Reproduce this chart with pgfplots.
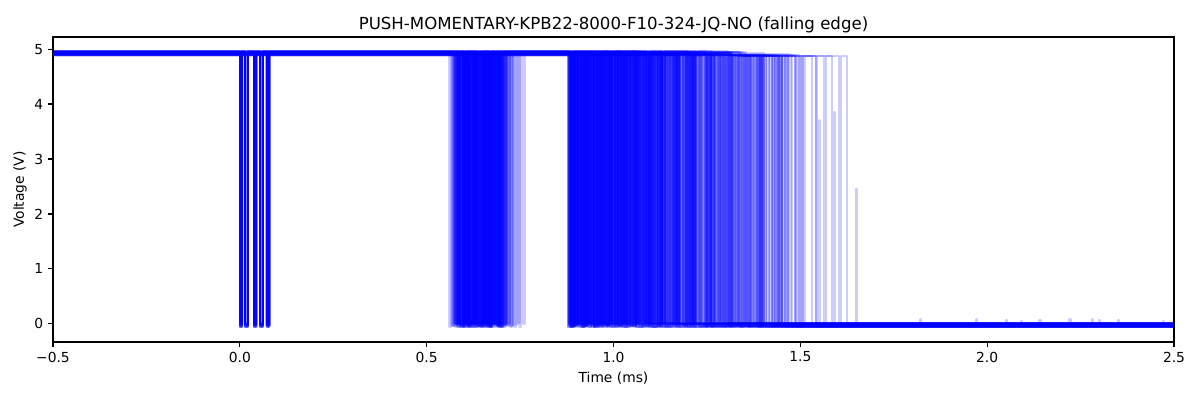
\documentclass[border=0pt]{standalone}
\usepackage{fontspec}
\setmainfont{DejaVu Sans}
\usepackage{pgfplots}
\pgfplotsset{compat=1.18}
\begin{document}
\begin{tikzpicture}
\useasboundingbox (-0.53in,-0.58in) rectangle (11.47in,3.42in);
\begin{axis}[
  at={(0,0)}, anchor=south west, scale only axis,
  width=11.21in, height=3.05in,
  xmin=-0.5, xmax=2.5, ymin=-0.33, ymax=5.22,
  xtick={-0.5,0,0.5,1,1.5,2,2.5},
  xticklabels={−0.5,0.0,0.5,1.0,1.5,2.0,2.5},
  ytick={0,1,2,3,4,5}, yticklabels={0,1,2,3,4,5},
  tick align=outside, xtick pos=bottom, ytick pos=left,
  major tick length=3.5pt,
  tick style={black, line width=0.8pt},
  axis line style={black, line width=0.8pt},
  ticklabel style={font=\fontsize{10}{12}\selectfont},
  title={PUSH-MOMENTARY-KPB22-8000-F10-324-JQ-NO (falling edge)},
  title style={font=\fontsize{12}{14}\selectfont, at={(axis description cs:0.5,1.0114)}, anchor=center},
  xlabel={Time (ms)},
  xlabel style={font=\fontsize{10}{12}\selectfont, at={(axis description cs:0.5,-0.118)}, anchor=center},
  ylabel={Voltage (V)},
  ylabel style={font=\fontsize{10}{12}\selectfont, at={(axis description cs:-0.0295,0.5)}, anchor=center},
  tr/.style={color={rgb,255:red,0;green,0;blue,255}, opacity=0.2, line width=1.5pt, const plot, no marks, line join=round},
]
% trace 1
\addplot[tr] coordinates {(-0.5,4.95)(0.001,-0.03)(0.007,4.95)(0.015,-0.03)(0.022,4.95)(0.038,-0.03)(0.044,4.95)(0.055,-0.03)(0.061,4.95)(0.072,-0.03)(0.079,4.95)
(0.592,-0.03)(0.598,4.95)(0.631,-0.03)(0.640,4.95)(0.668,-0.03)(0.672,4.95)(0.695,-0.03)(0.703,4.95)
(0.884,-0.03)(0.893,4.95)(0.921,-0.03)(0.934,4.95)(0.962,-0.03)(0.970,4.95)(1.004,-0.03)(1.011,4.95)(1.047,-0.03)(1.060,4.95)(1.093,-0.03)(1.099,4.95)(1.138,-0.03)(1.146,4.95)(1.187,-0.03)(1.192,4.95)(1.236,-0.03)(2.5,-0.03)};
% trace 2
\addplot[tr] coordinates {(-0.5,4.92)(0.002,0)(0.008,4.92)(0.016,0)(0.023,4.92)(0.039,0)(0.045,4.92)(0.056,0)(0.062,4.92)(0.073,0)(0.080,4.92)
(0.578,0)(0.584,4.92)(0.605,0)(0.622,4.92)(0.648,0)(0.655,4.92)(0.684,0)(0.689,4.92)
(0.891,0)(0.905,4.92)(0.937,0)(0.942,4.92)(0.975,0)(0.991,4.92)(1.021,0)(1.028,4.92)(1.066,0)(1.071,4.92)(1.112,0)(1.125,4.92)(1.163,0)(1.170,4.92)(1.208,0)(1.214,4.92)(1.251,0)(1.256,4.92)(1.298,0)(2.5,0)};
% trace 3
\addplot[tr] coordinates {(-0.5,4.94)(0.000,-0.05)(0.006,4.94)(0.014,-0.05)(0.021,4.94)(0.037,-0.05)(0.043,4.94)(0.054,-0.05)(0.060,4.94)(0.071,-0.05)(0.078,4.94)
(0.560,-0.05)(0.566,4.94)(0.598,-0.05)(0.607,4.94)(0.627,-0.05)(0.633,4.94)(0.659,-0.05)(0.676,4.94)(0.701,-0.05)(0.706,4.94)
(0.879,-0.05)(0.887,4.94)(0.912,-0.05)(0.918,4.94)(0.948,-0.05)(0.960,4.94)(0.995,-0.05)(1.000,4.94)(1.031,-0.05)(1.040,4.94)(1.078,-0.05)(1.083,4.94)(1.105,-0.05)(2.5,-0.05)};
% trace 4
\addplot[tr] coordinates {(-0.5,4.90)(0.001,-0.02)(0.007,4.90)(0.015,-0.02)(0.022,4.90)(0.038,-0.02)(0.044,4.90)(0.055,-0.02)(0.061,4.90)(0.072,-0.02)(0.079,4.90)
(0.587,-0.02)(0.601,4.90)(0.619,-0.02)(0.625,4.90)(0.652,-0.02)(0.661,4.90)(0.690,-0.02)(0.712,4.90)(0.738,-0.02)(0.742,4.90)
(0.903,-0.02)(0.910,4.90)(0.944,-0.02)(0.955,4.90)(0.986,-0.02)(0.992,4.90)(1.029,-0.02)(1.035,4.90)(1.071,-0.02)(1.085,4.90)(1.118,-0.02)(1.123,4.90)(1.166,-0.02)(1.174,4.90)(1.219,-0.02)(1.224,4.90)(1.271,-0.02)(1.280,4.90)(1.327,-0.02)(1.332,4.90)(1.384,-0.02)(1.390,4.90)(1.432,-0.02)(1.970,0.08)(1.973,-0.02)(2.5,-0.02)};
% trace 5
\addplot[tr] coordinates {(-0.5,4.96)(0.001,0.01)(0.007,4.96)(0.015,0.01)(0.022,4.96)(0.038,0.01)(0.044,4.96)(0.055,0.01)(0.061,4.96)(0.072,0.01)(0.079,4.96)
(0.603,0.01)(0.609,4.96)(0.636,0.01)(0.646,4.96)(0.663,0.01)(0.667,4.96)(0.679,0.01)(0.694,4.96)
(0.886,0.01)(0.898,4.96)(0.928,0.01)(0.933,4.96)(0.958,0.01)(0.966,4.96)(0.999,0.01)(1.006,4.96)(1.041,0.01)(1.046,4.96)(1.086,0.01)(1.104,4.96)(1.131,0.01)(1.137,4.96)(1.179,0.01)(1.183,4.96)(1.221,0.01)(1.229,4.96)(1.264,0.01)(2.5,0.01)};
% trace 6
\addplot[tr] coordinates {(-0.5,4.93)(0.000,-0.04)(0.006,4.93)(0.015,-0.04)(0.022,4.93)(0.038,-0.04)(0.044,4.93)(0.054,-0.04)(0.061,4.93)(0.072,-0.04)(0.080,4.93)
(0.571,-0.04)(0.580,4.93)(0.611,-0.04)(0.615,4.93)(0.642,-0.04)(0.660,4.93)(0.687,-0.04)(0.693,4.93)(0.721,-0.04)(0.727,4.93)
(0.882,-0.04)(0.889,4.93)(0.915,-0.04)(0.927,4.93)(0.953,-0.04)(0.957,4.93)(0.981,-0.04)(0.989,4.93)(1.015,-0.04)(1.020,4.93)(1.052,-0.04)(1.063,4.93)(1.097,-0.04)(1.101,4.93)(1.142,-0.04)(1.151,4.93)(1.195,-0.04)(1.199,4.93)(1.248,-0.04)(1.253,4.93)(1.301,-0.04)(1.307,4.93)(1.355,-0.04)(1.361,4.93)(1.402,-0.04)(2.090,0.06)(2.093,-0.04)(2.5,-0.04)};
% trace 7
\addplot[tr] coordinates {(-0.5,4.91)(0.001,-0.01)(0.007,4.91)(0.016,-0.01)(0.022,4.91)(0.039,-0.01)(0.044,4.91)(0.055,-0.01)(0.062,4.91)(0.072,-0.01)(0.079,4.91)
(0.584,-0.01)(0.590,4.91)(0.615,-0.01)(0.629,4.91)(0.656,-0.01)(0.662,4.91)(0.676,-0.01)(0.681,4.91)(0.709,-0.01)(0.716,4.91)
(0.895,-0.01)(0.902,4.91)(0.930,-0.01)(0.936,4.91)(0.969,-0.01)(0.982,4.91)(1.008,-0.01)(1.014,4.91)(1.055,-0.01)(1.061,4.91)(1.101,-0.01)(1.109,4.91)(1.144,-0.01)(2.5,-0.01)};
% trace 8
\addplot[tr] coordinates {(-0.5,4.95)(0.001,-0.06)(0.007,4.95)(0.015,-0.06)(0.023,4.95)(0.038,-0.06)(0.045,4.95)(0.055,-0.06)(0.061,4.95)(0.073,-0.06)(0.079,4.95)
(0.596,-0.06)(0.603,4.95)(0.622,-0.06)(0.637,4.95)(0.664,-0.06)(0.669,4.95)(0.693,-0.06)(0.699,4.95)(0.748,-0.06)(0.753,4.95)
(0.887,-0.06)(0.894,4.95)(0.919,-0.06)(0.925,4.95)(0.951,-0.06)(0.963,4.95)(0.990,-0.06)(0.996,4.95)(1.026,-0.06)(1.033,4.95)(1.064,-0.06)(1.068,4.95)(1.105,-0.06)(1.118,4.95)(1.152,-0.06)(1.158,4.95)(1.199,-0.06)(1.204,4.95)(1.244,-0.06)(1.250,4.95)(1.290,-0.06)(1.296,4.95)(1.338,-0.06)(1.343,4.88)(1.386,-0.06)(1.392,4.88)(1.437,-0.06)(1.441,4.88)(1.489,-0.06)(2.5,-0.06)};
% trace 9
\addplot[tr] coordinates {(-0.5,4.92)(0.001,0.02)(0.006,4.92)(0.015,0.02)(0.022,4.92)(0.038,0.02)(0.044,4.92)(0.055,0.02)(0.061,4.92)(0.072,0.02)(0.079,4.92)
(0.580,0.02)(0.595,4.92)(0.626,0.02)(0.631,4.92)(0.650,0.02)(0.657,4.92)(0.672,0.02)(0.686,4.92)
(0.900,0.02)(0.906,4.92)(0.933,0.02)(0.947,4.92)(0.973,0.02)(0.978,4.92)(1.011,0.02)(1.018,4.92)(1.050,0.02)(1.056,4.92)(1.083,0.02)(2.220,0.09)(2.223,0.02)(2.5,0.02)};
% trace 10
\addplot[tr] coordinates {(-0.5,4.94)(0.001,-0.03)(0.007,4.94)(0.015,-0.03)(0.022,4.94)(0.038,-0.03)(0.044,4.94)(0.056,-0.03)(0.061,4.94)(0.072,-0.03)(0.079,4.94)
(0.565,-0.03)(0.571,4.94)(0.607,-0.03)(0.612,4.94)(0.638,-0.03)(0.645,4.94)(0.661,-0.03)(0.666,4.94)(0.697,-0.03)(0.705,4.94)
(0.878,-0.03)(0.886,4.94)(0.909,-0.03)(0.915,4.94)(0.940,-0.03)(0.951,4.94)(0.977,-0.03)(0.983,4.94)(1.016,-0.03)(1.024,4.94)(1.058,-0.03)(1.063,4.94)(1.091,-0.03)(1.096,4.94)(1.129,-0.03)(1.140,4.94)(1.172,-0.03)(1.177,4.94)(1.213,-0.03)(1.219,4.94)(1.259,-0.03)(1.264,4.94)(1.306,-0.03)(1.311,4.94)(1.354,-0.03)(2.5,-0.03)};
% trace 11
\addplot[tr] coordinates {(-0.5,4.90)(0.002,-0.02)(0.007,4.90)(0.015,-0.02)(0.022,4.90)(0.038,-0.02)(0.044,4.90)(0.055,-0.02)(0.062,4.90)(0.072,-0.02)(0.080,4.90)
(0.589,-0.02)(0.594,4.90)(0.613,-0.02)(0.618,4.90)(0.646,-0.02)(0.652,4.90)(0.681,-0.02)(0.698,4.90)(0.730,-0.02)(0.734,4.90)
(0.893,-0.02)(0.899,4.90)(0.926,-0.02)(0.931,4.90)(0.960,-0.02)(0.974,4.90)(1.003,-0.02)(1.009,4.90)(1.043,-0.02)(1.049,4.90)(1.089,-0.02)(1.094,4.90)(1.127,-0.02)(1.133,4.90)(1.175,-0.02)(1.186,4.90)(1.226,-0.02)(1.231,4.90)(1.279,-0.02)(1.285,4.90)(1.334,-0.02)(1.339,4.88)(1.391,-0.02)(1.396,4.88)(1.445,-0.02)(1.450,4.88)(1.497,-0.02)(1.502,4.88)(1.531,-0.02)(2.050,0.07)(2.053,-0.02)(2.5,-0.02)};
% trace 12
\addplot[tr] coordinates {(-0.5,4.96)(0.001,-0.04)(0.007,4.96)(0.015,-0.04)(0.022,4.96)(0.037,-0.04)(0.044,4.96)(0.055,-0.04)(0.061,4.96)(0.072,-0.04)(0.079,4.96)
(0.599,-0.04)(0.605,4.96)(0.633,-0.04)(0.648,4.96)(0.670,-0.04)(0.675,4.96)(0.702,-0.04)(0.708,4.96)
(0.889,-0.04)(0.897,4.96)(0.923,-0.04)(0.929,4.96)(0.955,-0.04)(0.961,4.96)(0.988,-0.04)(1.001,4.96)(1.036,-0.04)(1.042,4.96)(1.074,-0.04)(1.079,4.96)(1.115,-0.04)(1.121,4.96)(1.158,-0.04)(1.165,4.96)(1.204,-0.04)(1.209,4.96)(1.247,-0.04)(2.5,-0.04)};
% trace 13
\addplot[tr] coordinates {(-0.5,4.93)(0.001,-0.01)(0.007,4.93)(0.015,-0.01)(0.022,4.93)(0.038,-0.01)(0.044,4.93)(0.055,-0.01)(0.061,4.93)(0.072,-0.01)(0.079,4.93)
(0.575,-0.01)(0.583,4.93)(0.609,-0.01)(0.620,4.93)(0.643,-0.01)(0.649,4.93)(0.666,-0.01)(0.671,4.93)(0.691,-0.01)(0.697,4.93)
(0.906,-0.01)(0.913,4.93)(0.939,-0.01)(0.944,4.93)(0.965,-0.01)(0.971,4.93)(0.997,-0.01)(1.010,4.93)(1.038,-0.01)(1.044,4.93)(1.081,-0.01)(1.087,4.93)(1.121,-0.01)(1.128,4.93)(1.161,-0.01)(1.167,4.93)(1.209,-0.01)(1.215,4.93)(1.262,-0.01)(1.268,4.93)(1.318,-0.01)(1.323,4.89)(1.375,-0.01)(1.381,4.89)(1.417,-0.01)(2.5,-0.01)};
% trace 14
\addplot[tr] coordinates {(-0.5,4.91)(0.000,0)(0.006,4.91)(0.015,0)(0.021,4.91)(0.038,0)(0.043,4.91)(0.054,0)(0.061,4.91)(0.071,0)(0.079,4.91)
(0.594,0)(0.599,4.91)(0.624,0)(0.630,4.91)(0.654,0)(0.671,4.91)(0.686,0)(0.691,4.91)(0.758,0)(0.763,4.91)
(0.881,0)(0.891,4.91)(0.917,0)(0.923,4.91)(0.946,0)(0.953,4.91)(0.979,0)(0.985,4.91)(1.012,0)(1.025,4.91)(1.054,0)(1.059,4.91)(1.095,0)(1.101,4.91)(1.167,0)(2.280,0.08)(2.283,0)(2.5,0)};
% trace 15
\addplot[tr] coordinates {(-0.5,4.95)(0.001,-0.05)(0.007,4.95)(0.015,-0.05)(0.022,4.95)(0.038,-0.05)(0.044,4.95)(0.055,-0.05)(0.061,4.95)(0.072,-0.05)(0.079,4.95)
(0.582,-0.05)(0.588,4.95)(0.601,-0.05)(0.611,4.95)(0.629,-0.05)(0.635,4.95)(0.657,-0.05)(0.663,4.95)(0.683,-0.05)(0.690,4.95)
(0.897,-0.05)(0.903,4.95)(0.931,-0.05)(0.940,4.95)(0.967,-0.05)(0.972,4.95)(1.002,-0.05)(1.008,4.95)(1.035,-0.05)(1.039,4.95)(1.068,-0.05)(1.077,4.95)(1.108,-0.05)(1.113,4.95)(1.146,-0.05)(1.152,4.95)(1.190,-0.05)(1.196,4.95)(1.232,-0.05)(1.239,4.95)(1.283,-0.05)(1.288,4.95)(1.336,-0.05)(1.341,4.88)(1.391,-0.05)(1.396,4.88)(1.448,-0.05)(1.452,4.88)(1.503,-0.05)(1.508,4.88)(1.541,-0.05)(1.549,3.70)(1.552,-0.05)(2.350,0.07)(2.353,-0.05)(2.5,-0.05)};
% trace 16
\addplot[tr] coordinates {(-0.5,4.92)(0.001,-0.02)(0.007,4.92)(0.015,-0.02)(0.022,4.92)(0.038,-0.02)(0.044,4.92)(0.055,-0.02)(0.061,4.92)(0.073,-0.02)(0.079,4.92)
(0.568,-0.02)(0.574,4.92)(0.604,-0.02)(0.610,4.92)(0.635,-0.02)(0.641,4.92)(0.662,-0.02)(0.678,4.92)(0.712,-0.02)(0.718,4.92)
(0.885,-0.02)(0.890,4.92)(0.913,-0.02)(0.920,4.92)(0.943,-0.02)(0.949,4.92)(0.971,-0.02)(0.985,4.92)(1.019,-0.02)(1.026,4.92)(1.057,-0.02)(1.065,4.92)(1.098,-0.02)(1.106,4.92)(1.143,-0.02)(1.149,4.92)(1.185,-0.02)(1.190,4.92)(1.222,-0.02)(2.5,-0.02)};
% trace 17
\addplot[tr] coordinates {(-0.5,4.94)(0.001,0.01)(0.007,4.94)(0.015,0.01)(0.022,4.94)(0.038,0.01)(0.044,4.94)(0.055,0.01)(0.061,4.94)(0.072,0.01)(0.079,4.94)
(0.586,0.01)(0.592,4.94)(0.616,0.01)(0.623,4.94)(0.639,0.01)(0.646,4.94)(0.673,0.01)(0.679,4.94)(0.699,0.01)(0.709,4.94)
(0.892,0.01)(0.900,4.94)(0.924,0.01)(0.932,4.94)(0.957,0.01)(0.963,4.94)(0.992,0.01)(0.998,4.94)(1.024,0.01)(1.037,4.94)(1.067,0.01)(1.072,4.94)(1.110,0.01)(1.116,4.94)(1.154,0.01)(1.160,4.94)(1.197,0.01)(1.203,4.94)(1.241,0.01)(1.246,4.94)(1.286,0.01)(1.292,4.94)(1.318,0.01)(1.820,0.08)(1.823,0.01)(2.5,0.01)};
% trace 18
\addplot[tr] coordinates {(-0.5,4.90)(0.001,-0.03)(0.007,4.90)(0.016,-0.03)(0.022,4.90)(0.038,-0.03)(0.045,4.90)(0.055,-0.03)(0.062,4.90)(0.072,-0.03)(0.080,4.90)
(0.597,-0.03)(0.602,4.90)(0.628,-0.03)(0.634,4.90)(0.651,-0.03)(0.664,4.90)(0.688,-0.03)(0.694,4.90)(0.726,-0.03)(0.731,4.90)
(0.904,-0.03)(0.911,4.90)(0.935,-0.03)(0.941,4.90)(0.968,-0.03)(0.975,4.90)(1.006,-0.03)(1.013,4.90)(1.045,-0.03)(1.053,4.90)(1.084,-0.03)(1.091,4.90)(1.124,-0.03)(1.130,4.90)(1.168,-0.03)(1.173,4.90)(1.214,-0.03)(1.220,4.90)(1.266,-0.03)(1.272,4.90)(1.324,-0.03)(1.330,4.88)(1.381,-0.03)(1.386,4.88)(1.437,-0.03)(1.442,4.88)(1.487,-0.03)(1.492,4.88)(1.541,-0.03)(1.545,4.88)(1.585,-0.03)(1.589,3.85)(1.592,-0.03)(2.140,0.07)(2.143,-0.03)(2.5,-0.03)};
% trace 19
\addplot[tr] coordinates {(-0.5,4.96)(0.001,-0.06)(0.007,4.96)(0.015,-0.06)(0.022,4.96)(0.038,-0.06)(0.044,4.96)(0.055,-0.06)(0.061,4.96)(0.072,-0.06)(0.079,4.96)
(0.577,-0.06)(0.582,4.96)(0.612,-0.06)(0.617,4.96)(0.645,-0.06)(0.653,4.96)(0.669,-0.06)(0.674,4.96)(0.705,-0.06)(0.711,4.96)
(0.883,-0.06)(0.892,4.96)(0.916,-0.06)(0.922,4.96)(0.949,-0.06)(0.956,4.96)(0.984,-0.06)(0.990,4.96)(1.022,-0.06)(1.030,4.96)(1.061,-0.06)(2.470,0.06)(2.473,-0.06)(2.5,-0.06)};
% trace 20
\addplot[tr] coordinates {(-0.5,4.93)(0.001,0)(0.007,4.93)(0.015,0)(0.022,4.93)(0.038,0)(0.044,4.93)(0.055,0)(0.061,4.93)(0.072,0)(0.079,4.93)
(0.590,0)(0.596,4.93)(0.620,0)(0.626,4.93)(0.647,0)(0.656,4.93)(0.677,0)(0.683,4.93)(0.716,0)(0.722,4.93)
(0.898,0)(0.904,4.93)(0.929,0)(0.938,4.93)(0.963,0)(0.968,4.93)(0.996,0)(1.003,4.93)(1.033,0)(1.041,4.93)(1.076,0)(1.082,4.93)(1.117,0)(1.122,4.93)(1.160,0)(1.164,4.93)(1.206,0)(1.212,4.93)(1.253,0)(1.259,4.93)(1.303,0)(1.309,4.93)(1.349,0)(1.354,4.88)(1.398,0)(1.403,4.88)(1.452,0)(1.457,4.88)(1.508,0)(1.513,4.88)(1.563,0)(1.568,4.88)(1.604,0)(1.609,4.88)(1.624,0)(1.648,2.45)(1.651,0)(2.300,0.07)(2.303,0)(2.5,0)};
% traces 21-45
\addplot[tr] coordinates {(-0.5,4.93)(0.603,-0.02)(0.610,4.93)(0.637,-0.02)(0.642,4.93)(0.661,-0.02)(0.668,4.93)(0.688,-0.02)(0.694,4.93)
(0.890,-0.02)(0.896,4.93)(0.918,-0.02)(0.924,4.93)(0.946,-0.02)(0.958,4.93)(0.978,-0.02)(0.984,4.93)(1.009,-0.02)(1.015,4.93)(1.039,-0.02)(1.046,4.93)(1.072,-0.02)(1.078,4.93)(1.106,-0.02)(1.111,4.93)(1.139,-0.02)(1.146,4.93)(1.178,-0.02)(2.5,-0.02)};
\addplot[tr] coordinates {(-0.5,4.95)(0.582,0)(0.587,4.95)(0.617,0)(0.624,4.95)(0.644,0)(0.650,4.95)(0.674,0)(0.680,4.95)(0.696,0)(0.702,4.95)
(0.880,0)(0.884,4.95)(0.903,0)(0.909,4.95)(0.927,0)(0.935,4.95)(0.952,0)(0.957,4.95)(0.979,0)(0.988,4.95)(1.013,0)(1.018,4.95)(1.045,0)(1.052,4.95)(1.080,0)(1.086,4.95)(1.116,0)(1.121,4.95)(1.157,0)(1.162,4.95)(1.196,0)(1.201,4.95)(1.233,0)(2.5,0)};
\addplot[tr] coordinates {(-0.5,4.91)(0.593,-0.04)(0.600,4.91)(0.608,-0.04)(0.614,4.91)(0.640,-0.04)(0.645,4.91)(0.665,-0.04)(0.670,4.91)(0.682,-0.04)(0.688,4.91)
(0.895,-0.04)(0.901,4.91)(0.925,-0.04)(0.930,4.91)(0.956,-0.04)(0.964,4.91)(0.987,-0.04)(0.994,4.91)(1.020,-0.04)(1.027,4.91)(1.056,-0.04)(1.061,4.91)(1.094,-0.04)(1.100,4.91)(1.132,-0.04)(1.137,4.91)(1.171,-0.04)(1.176,4.91)(1.211,-0.04)(1.216,4.91)(1.255,-0.04)(1.260,4.91)(1.285,-0.04)(2.5,-0.04)};
\addplot[tr] coordinates {(-0.5,4.94)(0.576,-0.01)(0.581,4.94)(0.600,-0.01)(0.606,4.94)(0.628,-0.01)(0.638,4.94)(0.657,-0.01)(0.662,4.94)(0.679,-0.01)(0.685,4.94)
(0.886,-0.01)(0.891,4.94)(0.911,-0.01)(0.917,4.94)(0.938,-0.01)(0.945,4.94)(0.964,-0.01)(0.970,4.94)(0.993,-0.01)(1.004,4.94)(1.027,-0.01)(1.033,4.94)(1.062,-0.01)(1.067,4.94)(1.090,-0.01)(2.5,-0.01)};
\addplot[tr] coordinates {(-0.5,4.92)(0.598,0.01)(0.604,4.92)(0.623,0.01)(0.629,4.92)(0.652,0.01)(0.659,4.92)(0.675,0.01)(0.682,4.92)(0.700,0.01)(0.704,4.92)
(0.901,0.01)(0.907,4.92)(0.930,0.01)(0.936,4.92)(0.961,0.01)(0.966,4.92)(0.991,0.01)(0.997,4.92)(1.023,0.01)(1.030,4.92)(1.058,0.01)(1.064,4.92)(1.091,0.01)(1.099,4.92)(1.127,0.01)(1.131,4.92)(1.165,0.01)(1.171,4.92)(1.203,0.01)(1.208,4.92)(1.246,0.01)(1.251,4.92)(1.292,0.01)(1.297,4.89)(1.341,0.01)(1.346,4.89)(1.380,0.01)(2.5,0.01)};
\addplot[tr] coordinates {(-0.5,4.96)(0.585,-0.05)(0.591,4.96)(0.611,-0.05)(0.616,4.96)(0.634,-0.05)(0.641,4.96)(0.655,-0.05)(0.661,4.96)(0.692,-0.05)(0.700,4.96)
(0.879,-0.05)(0.885,4.96)(0.907,-0.05)(0.913,4.96)(0.934,-0.05)(0.941,4.96)(0.966,-0.05)(0.972,4.96)(0.998,-0.05)(1.005,4.96)(1.032,-0.05)(1.037,4.96)(1.068,-0.05)(1.075,4.96)(1.104,-0.05)(1.109,4.96)(1.141,-0.05)(1.147,4.96)(1.198,-0.05)(2.5,-0.05)};
\addplot[tr] coordinates {(-0.5,4.90)(0.570,-0.03)(0.576,4.90)(0.596,-0.03)(0.603,4.90)(0.624,-0.03)(0.630,4.90)(0.649,-0.03)(0.654,4.90)(0.671,-0.03)(0.677,4.90)(0.713,-0.03)(0.719,4.90)
(0.892,-0.03)(0.898,4.90)(0.921,-0.03)(0.926,4.90)(0.950,-0.03)(0.956,4.90)(0.983,-0.03)(0.990,4.90)(1.014,-0.03)(1.019,4.90)(1.049,-0.03)(1.057,4.90)(1.086,-0.03)(1.091,4.90)(1.123,-0.03)(1.129,4.90)(1.162,-0.03)(1.168,4.90)(1.200,-0.03)(1.206,4.90)(1.241,-0.03)(1.247,4.90)(1.287,-0.03)(1.292,4.90)(1.330,-0.03)(1.335,4.88)(1.372,-0.03)(1.377,4.88)(1.425,-0.03)(2.5,-0.03)};
\addplot[tr] coordinates {(-0.5,4.93)(0.606,0.02)(0.612,4.93)(0.630,0.02)(0.636,4.93)(0.658,0.02)(0.664,4.93)(0.685,0.02)(0.690,4.93)
(0.884,0.02)(0.890,4.93)(0.910,0.02)(0.919,4.93)(0.942,0.02)(0.948,4.93)(0.971,0.02)(0.977,4.93)(1.001,0.02)(1.007,4.93)(1.033,0.02)(1.043,4.93)(1.069,0.02)(1.074,4.93)(1.100,0.02)(1.107,4.93)(1.131,0.02)(2.5,0.02)};
\addplot[tr] coordinates {(-0.5,4.95)(0.589,-0.02)(0.597,4.95)(0.619,-0.02)(0.624,4.95)(0.647,-0.02)(0.653,4.95)(0.667,-0.02)(0.673,4.95)(0.706,-0.02)(0.712,4.95)
(0.899,-0.02)(0.905,4.95)(0.926,-0.02)(0.932,4.95)(0.955,-0.02)(0.962,4.95)(0.985,-0.02)(0.991,4.95)(1.017,-0.02)(1.023,4.95)(1.051,-0.02)(1.058,4.95)(1.087,-0.02)(1.093,4.95)(1.119,-0.02)(1.126,4.95)(1.156,-0.02)(1.161,4.95)(1.193,-0.02)(1.199,4.95)(1.231,-0.02)(1.237,4.95)(1.272,-0.02)(1.277,4.95)(1.313,-0.02)(2.5,-0.02)};
\addplot[tr] coordinates {(-0.5,4.91)(0.579,0)(0.585,4.91)(0.609,0)(0.614,4.91)(0.633,0)(0.639,4.91)(0.660,0)(0.666,4.91)(0.689,0)(0.696,4.91)
(0.888,0)(0.895,4.91)(0.914,0)(0.920,4.91)(0.944,0)(0.950,4.91)(0.974,0)(0.981,4.91)(1.005,0)(1.012,4.91)(1.040,0)(1.045,4.91)(1.075,0)(1.081,4.91)(1.112,0)(2.5,0)};
\addplot[tr] coordinates {(-0.5,4.94)(0.595,-0.06)(0.600,4.94)(0.618,-0.06)(0.626,4.94)(0.645,-0.06)(0.650,4.94)(0.670,-0.06)(0.676,4.94)(0.693,-0.06)(0.698,4.94)(0.735,-0.06)(0.740,4.94)
(0.883,-0.06)(0.888,4.94)(0.906,-0.06)(0.912,4.94)(0.932,-0.06)(0.939,4.94)(0.959,-0.06)(0.965,4.94)(0.988,-0.06)(0.995,4.94)(1.019,-0.06)(1.025,4.94)(1.052,-0.06)(1.059,4.94)(1.088,-0.06)(1.094,4.94)(1.125,-0.06)(1.131,4.94)(1.164,-0.06)(1.169,4.94)(1.205,-0.06)(1.211,4.94)(1.249,-0.06)(1.254,4.94)(1.296,-0.06)(1.300,4.94)(1.344,-0.06)(1.349,4.88)(1.394,-0.06)(1.399,4.88)(1.458,-0.06)(2.5,-0.06)};
\addplot[tr] coordinates {(-0.5,4.92)(0.583,-0.04)(0.589,4.92)(0.606,-0.04)(0.611,4.92)(0.637,-0.04)(0.643,4.92)(0.663,-0.04)(0.668,4.92)(0.684,-0.04)(0.692,4.92)
(0.894,-0.04)(0.900,4.92)(0.922,-0.04)(0.928,4.92)(0.951,-0.04)(0.959,4.92)(0.980,-0.04)(0.986,4.92)(1.010,-0.04)(1.016,4.92)(1.044,-0.04)(1.050,4.92)(1.079,-0.04)(1.085,4.92)(1.113,-0.04)(1.119,4.92)(1.150,-0.04)(1.156,4.92)(1.189,-0.04)(1.194,4.92)(1.227,-0.04)(2.5,-0.04)};
\addplot[tr] coordinates {(-0.5,4.96)(0.573,0.01)(0.579,4.96)(0.601,0.01)(0.607,4.96)(0.626,0.01)(0.632,4.96)(0.653,0.01)(0.658,4.96)(0.677,0.01)(0.684,4.96)(0.698,0.01)(0.703,4.96)
(0.882,0.01)(0.887,4.96)(0.908,0.01)(0.914,4.96)(0.936,0.01)(0.943,4.96)(0.963,0.01)(0.969,4.96)(0.994,0.01)(0.999,4.96)(1.025,0.01)(1.032,4.96)(1.059,0.01)(1.065,4.96)(1.093,0.01)(1.098,4.96)(1.129,0.01)(1.135,4.96)(1.169,0.01)(1.174,4.96)(1.212,0.01)(1.218,4.96)(1.257,0.01)(1.262,4.96)(1.305,0.01)(2.5,0.01)};
\addplot[tr] coordinates {(-0.5,4.90)(0.601,-0.01)(0.606,4.90)(0.627,-0.01)(0.632,4.90)(0.655,-0.01)(0.660,4.90)(0.680,-0.01)(0.686,4.90)
(0.897,-0.01)(0.904,4.90)(0.928,-0.01)(0.934,4.90)(0.957,-0.01)(0.963,4.90)(0.989,-0.01)(0.994,4.90)(1.021,-0.01)(1.029,4.90)(1.054,-0.01)(1.060,4.90)(1.085,-0.01)(1.090,4.90)(1.118,-0.01)(2.5,-0.01)};
\addplot[tr] coordinates {(-0.5,4.93)(0.588,-0.05)(0.594,4.93)(0.614,-0.05)(0.620,4.93)(0.641,-0.05)(0.647,4.93)(0.666,-0.05)(0.673,4.93)(0.694,-0.05)(0.700,4.93)(0.724,-0.05)(0.729,4.93)
(0.887,-0.05)(0.893,4.93)(0.915,-0.05)(0.921,4.93)(0.947,-0.05)(0.952,4.93)(0.976,-0.05)(0.982,4.93)(1.007,-0.05)(1.014,4.93)(1.037,-0.05)(1.043,4.93)(1.070,-0.05)(1.076,4.93)(1.103,-0.05)(1.110,4.93)(1.137,-0.05)(1.143,4.93)(1.176,-0.05)(1.181,4.93)(1.216,-0.05)(1.222,4.93)(1.262,-0.05)(1.268,4.93)(1.311,-0.05)(1.316,4.89)(1.362,-0.05)(1.367,4.89)(1.409,-0.05)(2.5,-0.05)};
\addplot[tr] coordinates {(-0.5,4.95)(0.577,0.02)(0.583,4.95)(0.603,0.02)(0.608,4.95)(0.631,0.02)(0.637,4.95)(0.656,0.02)(0.663,4.95)(0.686,0.02)(0.691,4.95)
(0.893,0.02)(0.898,4.95)(0.920,0.02)(0.926,4.95)(0.949,0.02)(0.955,4.95)(0.978,0.02)(0.985,4.95)(1.011,0.02)(1.018,4.95)(1.047,0.02)(1.052,4.95)(1.078,0.02)(2.5,0.02)};
\addplot[tr] coordinates {(-0.5,4.91)(0.592,-0.02)(0.598,4.91)(0.621,-0.02)(0.627,4.91)(0.649,-0.02)(0.655,4.91)(0.672,-0.02)(0.678,4.91)(0.703,-0.02)(0.710,4.91)
(0.881,-0.02)(0.887,4.91)(0.905,-0.02)(0.911,4.91)(0.931,-0.02)(0.938,4.91)(0.960,-0.02)(0.967,4.91)(0.991,-0.02)(0.997,4.91)(1.022,-0.02)(1.028,4.91)(1.055,-0.02)(1.062,4.91)(1.090,-0.02)(1.095,4.91)(1.128,-0.02)(1.133,4.91)(1.166,-0.02)(1.172,4.91)(1.207,-0.02)(1.213,4.91)(1.250,-0.02)(1.255,4.91)(1.293,-0.02)(1.298,4.91)(1.337,-0.02)(2.5,-0.02)};
\addplot[tr] coordinates {(-0.5,4.94)(0.581,-0.03)(0.587,4.94)(0.610,-0.03)(0.617,4.94)(0.636,-0.03)(0.642,4.94)(0.662,-0.03)(0.669,4.94)(0.687,-0.03)(0.693,4.94)
(0.896,-0.03)(0.902,4.94)(0.924,-0.03)(0.931,4.94)(0.953,-0.03)(0.958,4.94)(0.982,-0.03)(0.989,4.94)(1.013,-0.03)(1.020,4.94)(1.048,-0.03)(1.054,4.94)(1.082,-0.03)(1.088,4.94)(1.117,-0.03)(1.124,4.94)(1.153,-0.03)(1.159,4.94)(1.192,-0.03)(1.197,4.94)(1.238,-0.03)(2.5,-0.03)};
\addplot[tr] coordinates {(-0.5,4.92)(0.600,0)(0.606,4.92)(0.625,0)(0.631,4.92)(0.651,0)(0.657,4.92)(0.678,0)(0.683,4.92)(0.708,0)(0.714,4.92)
(0.890,0)(0.897,4.92)(0.917,0)(0.922,4.92)(0.945,0)(0.951,4.92)(0.972,0)(0.979,4.92)(1.003,0)(1.010,4.92)(1.034,0)(1.040,4.92)(1.066,0)(1.073,4.92)(1.099,0)(1.105,4.92)(1.135,0)(1.141,4.92)(1.174,0)(1.180,4.92)(1.218,0)(1.223,4.92)(1.265,0)(1.270,4.92)(1.315,0)(1.320,4.88)(1.368,0)(1.373,4.88)(1.441,0)(2.5,0)};
\addplot[tr] coordinates {(-0.5,4.96)(0.586,-0.04)(0.593,4.96)(0.615,-0.04)(0.621,4.96)(0.643,-0.04)(0.648,4.96)(0.668,-0.04)(0.674,4.96)(0.690,-0.04)(0.696,4.96)
(0.885,-0.04)(0.892,4.96)(0.912,-0.04)(0.918,4.96)(0.941,-0.04)(0.947,4.96)(0.970,-0.04)(0.976,4.96)(1.000,-0.04)(1.006,4.96)(1.030,-0.04)(1.036,4.96)(1.073,-0.04)(2.5,-0.04)};
\addplot[tr] coordinates {(-0.5,4.90)(0.574,0.01)(0.580,4.90)(0.599,0.01)(0.605,4.90)(0.629,0.01)(0.635,4.90)(0.654,0.01)(0.660,4.90)(0.681,0.01)(0.687,4.90)(0.745,0.01)(0.750,4.90)
(0.902,0.01)(0.908,4.90)(0.929,0.01)(0.935,4.90)(0.959,0.01)(0.965,4.90)(0.990,0.01)(0.996,4.90)(1.022,0.01)(1.028,4.90)(1.057,0.01)(1.063,4.90)(1.092,0.01)(1.098,4.90)(1.130,0.01)(1.136,4.90)(1.170,0.01)(1.175,4.90)(1.213,0.01)(1.219,4.90)(1.258,0.01)(1.263,4.90)(1.288,0.01)(2.5,0.01)};
\addplot[tr] coordinates {(-0.5,4.93)(0.597,-0.06)(0.603,4.93)(0.623,-0.06)(0.628,4.93)(0.650,-0.06)(0.656,4.93)(0.676,-0.06)(0.681,4.93)(0.697,-0.06)(0.703,4.93)
(0.889,-0.06)(0.894,4.93)(0.916,-0.06)(0.923,4.93)(0.943,-0.06)(0.949,4.93)(0.969,-0.06)(0.975,4.93)(0.997,-0.06)(1.003,4.93)(1.028,-0.06)(1.035,4.93)(1.061,-0.06)(1.067,4.93)(1.095,-0.06)(1.102,4.93)(1.133,-0.06)(1.139,4.93)(1.171,-0.06)(1.178,4.93)(1.215,-0.06)(1.220,4.93)(1.260,-0.06)(1.266,4.93)(1.310,-0.06)(1.315,4.89)(1.359,-0.06)(1.365,4.89)(1.396,-0.06)(2.5,-0.06)};
\addplot[tr] coordinates {(-0.5,4.95)(0.584,-0.01)(0.590,4.95)(0.612,-0.01)(0.618,4.95)(0.640,-0.01)(0.646,4.95)(0.664,-0.01)(0.670,4.95)(0.694,-0.01)(0.701,4.95)
(0.880,-0.01)(0.886,4.95)(0.904,-0.01)(0.910,4.95)(0.933,-0.01)(0.940,4.95)(0.962,-0.01)(0.968,4.95)(0.992,-0.01)(0.999,4.95)(1.024,-0.01)(1.031,4.95)(1.063,-0.01)(1.069,4.95)(1.101,-0.01)(1.107,4.95)(1.149,-0.01)(2.5,-0.01)};
\addplot[tr] coordinates {(-0.5,4.91)(0.590,-0.05)(0.597,4.91)(0.616,-0.05)(0.622,4.91)(0.646,-0.05)(0.651,4.91)(0.671,-0.05)(0.677,4.91)(0.699,-0.05)(0.705,4.91)
(0.891,-0.05)(0.896,4.91)(0.918,-0.05)(0.925,4.91)(0.948,-0.05)(0.954,4.91)(0.977,-0.05)(0.983,4.91)(1.008,-0.05)(1.014,4.91)(1.041,-0.05)(1.048,4.91)(1.076,-0.05)(1.082,4.91)(1.111,-0.05)(1.117,4.91)(1.148,-0.05)(1.154,4.91)(1.186,-0.05)(1.192,4.91)(1.228,-0.05)(1.234,4.91)(1.273,-0.05)(1.279,4.91)(1.321,-0.05)(1.326,4.89)(1.366,-0.05)(2.5,-0.05)};
\addplot[tr] coordinates {(-0.5,4.94)(0.579,0.02)(0.586,4.94)(0.604,0.02)(0.611,4.94)(0.632,0.02)(0.638,4.94)(0.659,0.02)(0.665,4.94)(0.684,0.02)(0.690,4.94)(0.719,0.02)(0.724,4.94)
(0.886,0.02)(0.892,4.94)(0.913,0.02)(0.919,4.94)(0.940,0.02)(0.946,4.94)(0.967,0.02)(0.974,4.94)(0.996,0.02)(1.002,4.94)(1.027,0.02)(1.034,4.94)(1.060,0.02)(1.066,4.94)(1.094,0.02)(1.100,4.94)(1.131,0.02)(1.137,4.94)(1.168,0.02)(1.174,4.94)(1.206,0.02)(2.5,0.02)};
% traces 46-51
\addplot[tr] coordinates {(-0.5,4.89)(0.602,-0.03)(0.607,4.89)(0.655,-0.03)(0.661,4.89)
(0.893,-0.03)(0.899,4.89)(0.958,-0.03)(0.964,4.89)(1.036,-0.03)(1.042,4.89)(1.118,-0.03)(1.124,4.89)(1.196,-0.03)(1.202,4.89)(1.262,-0.03)(1.268,4.89)(1.309,-0.03)(1.314,4.89)(1.352,-0.03)(1.357,4.89)(1.397,-0.03)(1.402,4.89)(1.431,-0.03)(1.436,4.89)(1.463,-0.03)(1.468,4.89)(1.478,-0.03)(2.5,-0.03)};
\addplot[tr] coordinates {(-0.5,4.90)(0.587,0)(0.593,4.90)(0.633,0)(0.640,4.90)(0.679,0)(0.684,4.90)
(0.901,0)(0.907,4.90)(0.982,0)(0.988,4.90)(1.064,0)(1.070,4.90)(1.151,0)(1.157,4.90)(1.228,0)(1.234,4.90)(1.283,0)(1.289,4.90)(1.328,0)(1.333,4.90)(1.369,0)(1.374,4.90)(1.412,0)(1.417,4.90)(1.446,0)(1.451,4.90)(1.466,0)(2.5,0)};
\addplot[tr] coordinates {(-0.5,4.88)(0.611,-0.05)(0.617,4.88)(0.668,-0.05)(0.673,4.88)
(0.885,-0.05)(0.891,4.88)(0.943,-0.05)(0.949,4.88)(1.016,-0.05)(1.022,4.88)(1.097,-0.05)(1.103,4.88)(1.178,-0.05)(1.184,4.88)(1.244,-0.05)(1.249,4.88)(1.299,-0.05)(1.304,4.88)(1.344,-0.05)(1.349,4.88)(1.388,-0.05)(1.393,4.88)(1.424,-0.05)(1.429,4.88)(1.452,-0.05)(2.5,-0.05)};
\addplot[tr] coordinates {(-0.5,4.91)(0.596,0.01)(0.602,4.91)(0.648,0.01)(0.654,4.91)(0.707,0.01)(0.712,4.91)
(0.906,0.01)(0.912,4.91)(0.971,0.01)(0.977,4.91)(1.049,0.01)(1.055,4.91)(1.133,0.01)(1.139,4.91)(1.213,0.01)(1.219,4.91)(1.276,0.01)(1.281,4.91)(1.321,0.01)(1.326,4.91)(1.361,0.01)(1.366,4.91)(1.404,0.01)(1.409,4.91)(1.439,0.01)(1.444,4.91)(1.471,0.01)(1.476,4.89)(1.497,0.01)(2.5,0.01)};
\addplot[tr] coordinates {(-0.5,4.89)(0.577,-0.02)(0.583,4.89)(0.626,-0.02)(0.632,4.89)(0.688,-0.02)(0.694,4.89)
(0.889,-0.02)(0.895,4.89)(0.951,-0.02)(0.957,4.89)(1.028,-0.02)(1.034,4.89)(1.109,-0.02)(1.115,4.89)(1.187,-0.02)(1.193,4.89)(1.254,-0.02)(1.259,4.89)(1.305,-0.02)(1.310,4.89)(1.348,-0.02)(1.353,4.89)(1.384,-0.02)(1.389,4.89)(1.419,-0.02)(1.424,4.89)(1.444,-0.02)(2.5,-0.02)};
\addplot[tr] coordinates {(-0.5,4.90)(0.615,-0.04)(0.621,4.90)(0.661,-0.04)(0.667,4.90)
(0.898,-0.04)(0.904,4.90)(0.966,-0.04)(0.972,4.90)(1.043,-0.04)(1.049,4.90)(1.125,-0.04)(1.131,4.90)(1.204,-0.04)(1.210,4.90)(1.269,-0.04)(1.275,4.90)(1.315,-0.04)(1.320,4.90)(1.357,-0.04)(1.362,4.90)(1.393,-0.04)(1.398,4.90)(1.428,-0.04)(1.433,4.90)(1.458,-0.04)(1.463,4.90)(1.486,-0.04)(2.5,-0.04)};
\end{axis}
\end{tikzpicture}
\end{document}
